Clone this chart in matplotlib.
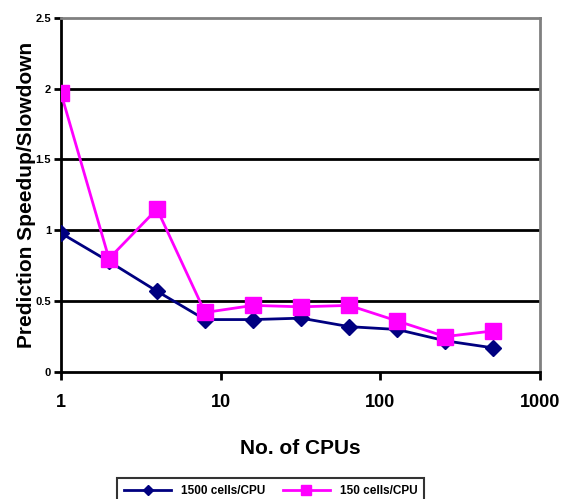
import matplotlib
matplotlib.use('Agg')
import matplotlib.pyplot as plt
from matplotlib.ticker import FixedLocator, NullLocator

plt.rcParams['font.family'] = ['Liberation Sans', 'DejaVu Sans']
plt.rcParams['font.weight'] = 'bold'

cpus = [1, 2, 4, 8, 16, 32, 64, 128, 256, 512]
cells1500 = [0.98, 0.78, 0.57, 0.37, 0.37, 0.38, 0.32, 0.30, 0.22, 0.17]
cells150 = [1.97, 0.80, 1.15, 0.42, 0.47, 0.46, 0.47, 0.36, 0.25, 0.29]
yticks = [0, 0.5, 1, 1.5, 2, 2.5]
xticks = [1, 10, 100, 1000]

fig = plt.figure(figsize=(5.64, 4.99), dpi=100)
ax = fig.add_axes([0.108, 0.2545, 0.849, 0.710])

for y in yticks[1:-1]:
    ax.axhline(y, color='black', lw=2, zorder=1)

ax.plot(cpus, cells1500, color='#000080', lw=2, marker='D', ms=8,
        label='1500 cells/CPU', zorder=3)
ax.plot(cpus, cells150, color='#FF00FF', lw=2, marker='s', ms=11,
        label='150 cells/CPU', zorder=3)

ax.set_xscale('log')
ax.set_xlim(1, 1000)
ax.set_ylim(0, 2.5)
ax.xaxis.set_major_locator(FixedLocator(xticks))
ax.xaxis.set_minor_locator(NullLocator())
ax.set_xticklabels([str(x) for x in xticks], fontsize=13, fontweight='bold')
ax.set_yticks(yticks)
ax.set_yticklabels([str(y) for y in yticks], fontsize=8, fontweight='bold')
ax.tick_params(axis='x', direction='out', length=6, width=2, pad=10)
ax.tick_params(axis='y', direction='out', length=5, width=2, pad=2)

ax.spines['left'].set_linewidth(2)
ax.spines['bottom'].set_linewidth(2)
ax.spines['top'].set_color('gray')
ax.spines['top'].set_linewidth(2)
ax.spines['right'].set_color('gray')
ax.spines['right'].set_linewidth(2)

ax.set_xlabel('No. of CPUs', fontsize=15, fontweight='bold', labelpad=20)
ax.set_ylabel('Prediction Speedup/Slowdown', fontsize=15, fontweight='bold', labelpad=0)

# legend box sits low, its bottom edge runs past the figure like the original
leg = fig.legend(loc='upper center', bbox_to_anchor=(0.48, 0.054), ncol=2,
                 frameon=True, fancybox=False, edgecolor='black',
                 prop={'size': 8.5, 'weight': 'bold'}, handlelength=4,
                 markerscale=0.6, columnspacing=1.5, borderpad=0.6)
leg.get_frame().set_linewidth(1.5)

fig.savefig('out.png', dpi=100)
